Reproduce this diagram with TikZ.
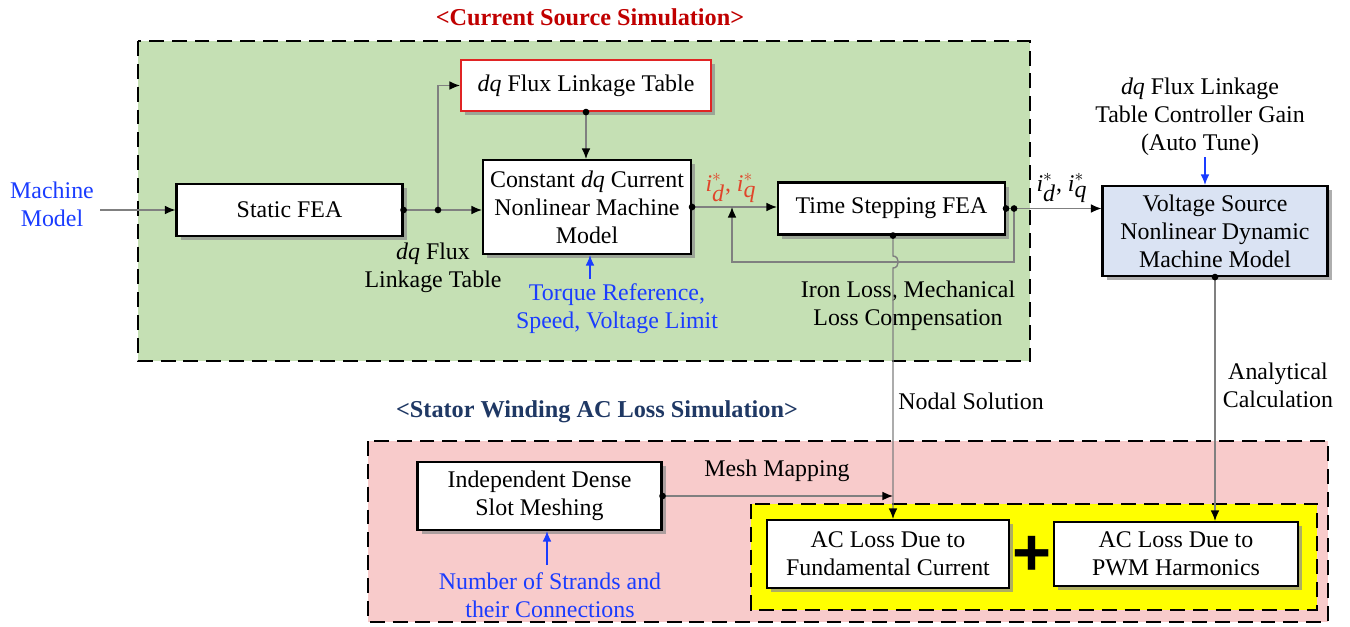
\documentclass[tikz,border=0pt]{standalone}
\usepackage{fontspec}
\setmainfont{Liberation Serif}
\newfontfamily\plusfont{Liberation Sans}
\usetikzlibrary{arrows.meta,shadows,calc}
\definecolor{gfill}{HTML}{C5E0B4}
\definecolor{pfill}{HTML}{F8CBCB}
\definecolor{bfill}{HTML}{DAE3F3}
\definecolor{yfill}{HTML}{FFFF00}
\definecolor{tred}{HTML}{C00000}
\definecolor{tnavy}{HTML}{1F3864}
\definecolor{lblue}{HTML}{1A3CFF}
\definecolor{lred}{HTML}{E0452A}
\definecolor{cgray}{HTML}{808080}
\definecolor{bred}{HTML}{E02424}
\newcommand\pxu{0.02cm}
\begin{document}
\begin{tikzpicture}[x=0.02cm,y=-0.02cm,
 every node/.style={font=\fontsize{13.6}{15.9}\selectfont, align=center},
 region/.style={draw=black, line width=1.3pt, dash pattern=on 8.5pt off 4.5pt},
 blk/.style={draw=black, line width=1.2pt, fill=white, inner sep=1pt,
   drop shadow={shadow xshift=2.5pt, shadow yshift=-2.5pt, fill=black!45, opacity=0.7}},
 conn/.style={draw=cgray, line width=0.8pt},
 arr/.style={conn, -{Latex[length=6pt,width=5pt,color=black]}},
 barr/.style={draw=lblue, line width=0.8pt, -{Latex[length=6pt,width=5pt]}},
 title/.style={font=\fontsize{13.8}{16}\selectfont\bfseries},
]
\useasboundingbox (0,0) rectangle (1350,626);
% regions
\path[region, fill=gfill] (138,41) rectangle (1030,361);
\path[region, fill=pfill] (368,441) rectangle (1328,622);
\path[region, fill=yfill] (751,504) rectangle (1317,610);
% titles
\node[title, text=tred] (t1) at (590,17) {<Current Source Simulation>};
\node[title, text=tnavy] (t2) at (597,412) {<Stator Winding AC Loss Simulation>};
% blocks
\node[blk, minimum width=226*\pxu, minimum height=52*\pxu] (static) at (289.5,210) {Static FEA};
\node[blk, draw=bred, minimum width=250*\pxu, minimum height=51*\pxu] (table) at (586,85.5) {\textit{dq} Flux Linkage Table};
\node[blk, minimum width=208*\pxu, minimum height=94*\pxu] (cons) at (587,207) {Constant \textit{dq} Current\\Nonlinear Machine\\Model};
\node[blk, minimum width=227*\pxu, minimum height=52*\pxu] (ts) at (891.5,208.5) {Time Stepping FEA};
\node[blk, fill=bfill, minimum width=225*\pxu, minimum height=90*\pxu] (vs) at (1215,231) {Voltage Source\\Nonlinear Dynamic\\Machine Model};
\node[blk, minimum width=244*\pxu, minimum height=68*\pxu] (ind) at (539.5,496) {Independent Dense\\Slot Meshing};
\node[blk, minimum width=242*\pxu, minimum height=68*\pxu] (fund) at (888,554) {AC Loss Due to\\Fundamental Current};
\node[blk, minimum width=244*\pxu, minimum height=64*\pxu] (pwm) at (1176,554) {AC Loss Due to\\PWM Harmonics};
\node[font=\plusfont\bfseries\fontsize{38}{38}\selectfont, inner sep=0pt] (plus) at (1032,556) {+};
% labels
\node[text=lblue] (mm) at (52,204) {Machine\\Model};
\node (fl) at (433,268) {\textit{dq} Flux\\Linkage Table};
\node[text=lblue] (trq) at (617,309) {Torque Reference,\\Speed, Voltage Limit};
\node[text=lred] (ir) at (731,188) {$\textit{i}^{*}_{\textit{d}}$, $\textit{i}^{*}_{\textit{q}}$};
\node (io) at (1062,188) {$\textit{i}^{*}_{\textit{d}}$, $\textit{i}^{*}_{\textit{q}}$};
\node (il) at (908,306) {Iron Loss, Mechanical\\Loss Compensation};
\node (gain) at (1200,117) {\textit{dq} Flux Linkage\\Table Controller Gain\\(Auto Tune)};
\node (an) at (1278,385) {Analytical\\Calculation};
\node (ns) at (971,401) {Nodal Solution};
\node (mmap) at (777,471) {Mesh Mapping};
\node[text=lblue] (strands) at (550,595) {Number of Strands and\\their Connections};
% coordinates
\coordinate (j1) at (438,210);
\coordinate (o2) at ($(ts.east)+(8,0)$);
\coordinate (fbc) at (732,262);
\coordinate (fj) at (732,207);
\coordinate (tsb) at ($(ts.south)+(1.5,0)$);
\coordinate (tq) at (590,279);
\coordinate (gq) at (1205,157);
\coordinate (sq) at (547,565);
% connectors
\draw[arr] (mm.east |- static.west) -- (static.west);
\draw[arr] (static.east) -- (j1) -- (cons.west |- j1);
\draw[arr] (j1) |- (table.west);
\draw[arr] (table.south) -- (table.south |- cons.north);
\draw[arr] (cons.east) -- (ts.west |- cons.east);
\draw[conn] (ts.east) -- (o2);
\draw[arr] (o2) |- (fbc) -- (fj);
\draw[arr] (o2) -- (vs.west |- o2);
\draw[arr] (tsb) -- ($(tsb |- fbc)+(0,-6)$) .. controls +(7,0) and +(7,0) .. ($(tsb |- fbc)+(0,6)$) -- (fund.north -| tsb);
\draw[arr] (ind.east) -- (ind.east -| tsb);
\draw[arr] (vs.south) -- (vs.south |- pwm.north);
\draw[barr] (tq) -- (tq |- cons.south);
\draw[barr] (gq) -- (gq |- vs.north);
\draw[barr] (sq) -- (sq |- ind.south);
% dots
\foreach \p in {static.east, j1, table.south, cons.east, ts.east, o2, tsb, vs.south, ind.east}
  \fill (\p) circle (1.9pt);
\end{tikzpicture}
\end{document}
